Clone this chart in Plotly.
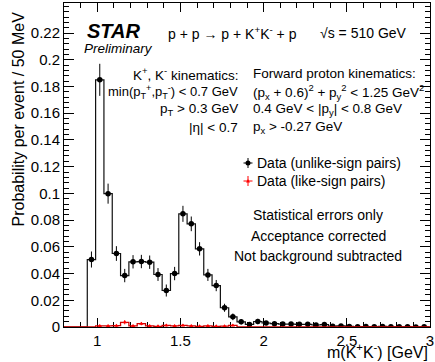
import numpy as np
import plotly.graph_objects as go

# ---------------- data ----------------
BIN_LO = 0.94          # first bin lower edge [GeV]
BIN_W = 0.05           # bin width [GeV]
unlike_vals = [0.0505, 0.185, 0.0998, 0.055, 0.0385, 0.0488, 0.049, 0.0485, 0.0393, 0.0273,
               0.040, 0.0847, 0.0772, 0.0585, 0.039, 0.031, 0.0144, 0.0076, 0.0039, 0.0019,
               0.0041, 0.0030, 0.0025, 0.0022, 0.0022, 0.0020, 0.0020, 0.0015, 0.0018, 0.0006,
               0.0008, 0.0004, 0.0002, 0.0003, 0.0001, 0.0004, 0.0001, 0.0002, 0.0001, 0.0, 0.0001]
unlike_errs = [0.006, 0.012, 0.0075, 0.0055, 0.005, 0.005, 0.005, 0.005, 0.0048, 0.0045,
               0.005, 0.006, 0.0055, 0.005, 0.0045, 0.0042, 0.003, 0.0025, 0.002, 0.0015,
               0.002, 0.0015, 0.0015, 0.0013, 0.0013, 0.0012, 0.0012, 0.0011, 0.0012, 0.0008,
               0.0008, 0.0006, 0.0004, 0.0005, 0.0003, 0.0006, 0.0003, 0.0004, 0.0003, 0.0, 0.0003]
like_vals = [0.0, 0.0008, 0.0008, 0.001, 0.0035, 0.0008, 0.0025, 0.0008, 0.0005, 0.0012,
             0.0008, 0.0012, 0.0008, 0.0005, 0.0008, 0.0005, 0.0006, 0.0012]
like_errs = [0.0, 0.0008, 0.0008, 0.0008, 0.0015, 0.0008, 0.0012, 0.0008, 0.0006, 0.0008,
             0.0008, 0.0008, 0.0008, 0.0006, 0.0008, 0.0006, 0.0006, 0.0008]
X_RANGE = [0.8, 3.0]
Y_RANGE = [0.0, 0.2425]
x_tick_vals = [1, 1.5, 2, 2.5, 3]
x_tick_text = ["1", "1.5", "2", "2.5", "3"]
y_tick_vals = [0, 0.02, 0.04, 0.06, 0.08, 0.1, 0.12, 0.14, 0.16, 0.18, 0.2, 0.22]
y_tick_text = ["0", "0.02", "0.04", "0.06", "0.08", "0.1", "0.12", "0.14", "0.16", "0.18", "0.2", "0.22"]

FONT = "Liberation Sans, Arial, Helvetica, sans-serif"

def step_xy(vals):
    n = len(vals)
    edges = BIN_LO + BIN_W * np.arange(n + 1)
    xs = [X_RANGE[0]] + list(edges[:-1]) + [edges[-1], X_RANGE[1]]
    ys = [0.0] + list(vals) + [0.0, 0.0]
    return xs, ys

def centers(n):
    return BIN_LO + BIN_W * (np.arange(n) + 0.5)

fig = go.Figure()

# unlike-sign (black)
ux, uy = step_xy(unlike_vals)
fig.add_trace(go.Scatter(x=ux, y=uy, mode="lines", line=dict(color="#111111", width=1.2, shape="hv"),
                         hoverinfo="skip", showlegend=False))
uc = centers(len(unlike_vals))
fig.add_trace(go.Scatter(x=uc, y=unlike_vals, mode="markers",
                         marker=dict(symbol="circle", size=5.5, color="black"),
                         error_y=dict(type="data", array=unlike_errs, width=0, thickness=1, color="black"),
                         showlegend=False))

# like-sign (red), drawn on top
lx, ly = step_xy(like_vals)
fig.add_trace(go.Scatter(x=lx, y=ly, mode="lines", line=dict(color="#d00000", width=1.3, shape="hv"),
                         hoverinfo="skip", showlegend=False))
lc = centers(len(like_vals))
lv = [v if v > 0 else None for v in like_vals]
fig.add_trace(go.Scatter(x=lc, y=lv, mode="markers",
                         marker=dict(symbol="triangle-up", size=4, color="#ff0000"),
                         error_y=dict(type="data", array=like_errs, width=0, thickness=1, color="#ff0000"),
                         showlegend=False))

# --------------- layout ---------------
W, H = 435, 362
L, R, T, B = 64, 5, 3, 35
PW, PH = W - L - R, H - T - B

def px(x, y):
    return (x - L) / PW, (H - B - y) / PH

annotations = []
def txt(x, y, s, size=14, xanchor="left", yanchor="middle", **kw):
    xp, yp = px(x, y)
    annotations.append(dict(x=xp, y=yp, xref="paper", yref="paper", text=s, showarrow=False,
                            xanchor=xanchor, yanchor=yanchor,
                            font=dict(family=FONT, size=size, color="black"), **kw))

txt(85, 31, "<b><i>STAR</i></b>", size=20)
txt(82, 49, "<i>Preliminary</i>", size=13.5)
txt(166, 33, "p + p → p + K<sup>+</sup>K<sup>-</sup> + p")
txt(318, 33, "√s = 510 GeV")

S2 = 13.5
txt(240, 74, "K<sup>+</sup>, K<sup>-</sup> kinematics:", size=S2, xanchor="right")
txt(240, 92, "min(p<sub>T</sub><sup>+</sup>,p<sub>T</sub><sup>-</sup>) < 0.7 GeV", size=13, xanchor="right")
txt(240, 109, "p<sub>T</sub> > 0.3 GeV", size=S2, xanchor="right")
txt(240, 127, "|η| < 0.7", size=S2, xanchor="right")
txt(251, 74, "Forward proton kinematics:", size=S2)
txt(251, 92, "(p<sub>x</sub> + 0.6)<sup>2</sup> + p<sub>y</sub><sup>2</sup> < 1.25 GeV<sup>2</sup>", size=S2)
txt(251, 109, "0.4 GeV < |p<sub>y</sub>| < 0.8 GeV", size=S2)
txt(251, 127, "p<sub>x</sub> > -0.27 GeV", size=S2)

txt(255, 163, "Data (unlike-sign pairs)")
txt(255, 181, "Data (like-sign pairs)")

txt(318, 215, "Statistical errors only", xanchor="center")
txt(318, 236, "Acceptance corrected", xanchor="center")
txt(318, 256, "Not background subtracted", xanchor="center")

# axis titles
txt(430, 351, "m(K<sup>+</sup>K<sup>-</sup>) [GeV]", size=16, xanchor="right")
xp, yp = px(18, 10)
annotations.append(dict(x=xp, y=yp, xref="paper", yref="paper", text="Probability per event / 50 MeV",
                        textangle=-90, showarrow=False, xanchor="center", yanchor="top",
                        font=dict(family=FONT, size=16, color="black")))

# legend symbols
shapes = []
for (cx, cy, col, sym) in [(248, 163, "black", "circle"), (248, 181, "#ff0000", "tri")]:
    xp, yp = px(cx, cy)
    shapes.append(dict(type="line", xref="paper", yref="paper", xsizemode="pixel", ysizemode="pixel",
                       xanchor=xp, yanchor=yp, x0=-4.5, x1=4.5, y0=0, y1=0, line=dict(color=col, width=1)))
    shapes.append(dict(type="line", xref="paper", yref="paper", xsizemode="pixel", ysizemode="pixel",
                       xanchor=xp, yanchor=yp, x0=0, x1=0, y0=-5, y1=5, line=dict(color=col, width=1)))
    if sym == "circle":
        shapes.append(dict(type="circle", xref="paper", yref="paper", xsizemode="pixel", ysizemode="pixel",
                           xanchor=xp, yanchor=yp, x0=-2.5, x1=2.5, y0=-2.5, y1=2.5,
                           fillcolor=col, line=dict(color=col, width=0)))
    else:
        shapes.append(dict(type="path", xref="paper", yref="paper", xsizemode="pixel", ysizemode="pixel",
                           xanchor=xp, yanchor=yp, path="M -2 -1.5 L 2 -1.5 L 0 2 Z",
                           fillcolor=col, line=dict(color=col, width=0)))

axis_common = dict(showgrid=False, zeroline=False, showline=True, linecolor="black", linewidth=1,
                   mirror="allticks", ticks="inside", tickcolor="black", tickwidth=1,
                   tickfont=dict(family=FONT, size=15, color="black"), layer="below traces")

fig.update_layout(
    width=W, height=H, margin=dict(l=L, r=R, t=T, b=B, autoexpand=False),
    paper_bgcolor="white", plot_bgcolor="white",
    xaxis=dict(range=X_RANGE, tickmode="array", tickvals=x_tick_vals, ticktext=x_tick_text, ticklen=9,
               minor=dict(tickvals=list(np.round(np.arange(0.8, 3.001, 0.1), 3)), ticklen=5,
                          ticks="inside", tickcolor="black", tickwidth=1, showgrid=False),
               **axis_common),
    yaxis=dict(range=Y_RANGE, tickmode="array", tickvals=y_tick_vals, ticktext=y_tick_text, ticklen=10,
               minor=dict(tickvals=list(np.round(np.arange(0, 0.2425, 0.004), 4)), ticklen=5,
                          ticks="inside", tickcolor="black", tickwidth=1, showgrid=False),
               **axis_common),
    annotations=annotations, shapes=shapes, showlegend=False,
)

fig.write_html("out.html")
